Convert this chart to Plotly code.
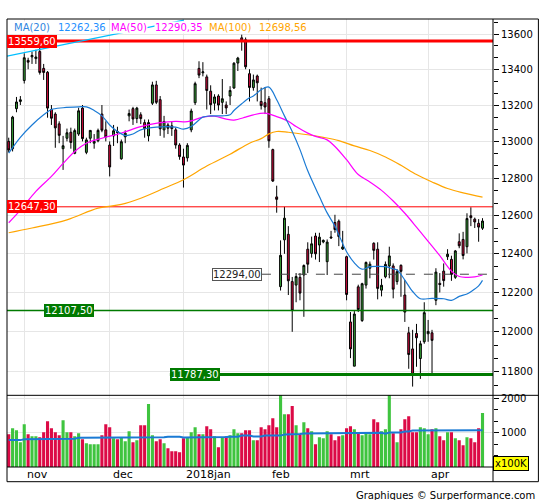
import numpy as np
import pandas as pd
import plotly.graph_objects as go

# Trading days on the chart (exchange holidays removed)
HOLIDAYS = ["2017-10-31", "2017-12-25", "2017-12-26", "2018-01-01", "2018-03-30", "2018-04-02"]
dates = [d for d in pd.bdate_range("2017-10-25", "2018-04-23") if d.strftime("%Y-%m-%d") not in HOLIDAYS]

opens = [13000, 12960, 13180, 13220, 13337, 13450, 13470, 13460, 13500, 13405,
         13383, 13175, 13150, 13096, 12960, 13017, 13050, 12935, 13040, 13183,
         12940, 13017, 12990, 13003, 13150, 13063, 12980, 13030, 13054, 12905,
         13025, 13140, 13180, 13125, 13146, 13103, 13030, 13210, 13312, 13230,
         13063, 13090, 13085, 13063, 12980, 12915, 12910, 13063, 13213, 13405,
         13380, 13357, 13277, 13210, 13250, 13215, 13200, 13250, 13295, 13435,
         13578, 13567, 13375, 13297, 13362, 13220, 13213, 13235, 12955, 12700,
         12230, 12473, 12502, 12256, 12238, 12278, 12290, 12424, 12402, 12493,
         12446, 12462, 12359, 12488, 12564, 12571, 12425, 12385, 12050, 11828,
         12229, 12057, 12238, 12325, 12455, 12424, 12212, 12281, 12337, 12337,
         12256, 12340, 12187, 11995, 11914, 11992, 11866, 11950, 11990, 11995,
         12160, 12247, 12310, 12385, 12371, 12278, 12463, 12475, 12437, 12600,
         12582, 12560, 12534]
highs = [13020, 13140, 13245, 13250, 13490, 13465, 13500, 13510, 13525, 13430,
         13390, 13200, 13160, 13110, 13030, 13070, 13075, 13070, 13185, 13200,
         13020, 13060, 13040, 13070, 13200, 13110, 13000, 13090, 13080, 13010,
         13060, 13175, 13190, 13190, 13160, 13120, 13120, 13330, 13335, 13250,
         13140, 13100, 13110, 13075, 12990, 12960, 12990, 13180, 13330, 13445,
         13440, 13370, 13310, 13260, 13260, 13345, 13220, 13305, 13440, 13470,
         13596, 13580, 13400, 13370, 13370, 13297, 13300, 13250, 12960, 12760,
         12470, 12647.3, 12545, 12280, 12300, 12300, 12345, 12460, 12490, 12510,
         12510, 12475, 12475, 12520, 12605, 12580, 12520, 12390, 12100, 12105,
         12240, 12250, 12360, 12360, 12460, 12460, 12270, 12360, 12437, 12350,
         12320, 12345, 12264, 12025, 12010, 12040, 11955, 12150, 12060, 12010,
         12325, 12300, 12350, 12424, 12390, 12420, 12507, 12515, 12613, 12645,
         12590, 12582, 12587]
lows = [12940, 12945, 13160, 13200, 13320, 13400, 13430, 13430, 13370, 13340,
        13130, 13090, 12965, 12990, 12845, 13000, 12960, 12930, 13030, 13000,
        12930, 12990, 12960, 12995, 13050, 13000, 12810, 12975, 12990, 12900,
        12990, 13110, 13090, 13100, 13095, 13020, 13000, 13200, 13205, 13030,
        13020, 13040, 13030, 12960, 12900, 12750, 12890, 13050, 13200, 13350,
        13360, 13175, 13150, 13170, 13170, 13150, 13150, 13200, 13290, 13390,
        13505, 13400, 13220, 13280, 13220, 13175, 13150, 12965, 12780, 12616,
        12210, 12400, 12187, 12000, 12150, 12160, 12076, 12300, 12380, 12370,
        12357, 12455, 12290, 12480, 12510, 12440, 12420, 12160, 11868, 11828,
        12100, 12050, 12220, 12273, 12370, 12165, 12180, 12273, 12273, 12170,
        12240, 12178, 12050, 11815, 11727, 11825, 11765, 11940, 11950, 11790,
        12135, 12200, 12230, 12368, 12260, 12270, 12429, 12371, 12402, 12545,
        12535, 12463, 12525]
closes = [12953, 13133, 13217, 13229, 13465, 13440, 13478, 13469, 13382, 13382,
          13183, 13127, 13074, 13033, 12976, 13047, 12994, 13059, 13168, 13015,
          13008, 13060, 13000, 13060, 13061, 13024, 12861, 13058, 13048, 12998,
          13045, 13153, 13123, 13183, 13125, 13069, 13103, 13312, 13215, 13069,
          13109, 13072, 13070, 12980, 12917, 12871, 12978, 13167, 13319, 13367,
          13385, 13281, 13202, 13245, 13200, 13235, 13184, 13281, 13434, 13463,
          13559.6, 13414, 13298, 13340, 13324, 13197, 13189, 13003, 12785, 12687,
          12392, 12587, 12260, 12107.5, 12282, 12197, 12339, 12346, 12452, 12400,
          12487, 12470, 12461, 12483, 12527, 12490, 12436, 12190, 11914, 12090,
          12113, 12245, 12355, 12346, 12418, 12221, 12237, 12345, 12389, 12217,
          12307, 12309, 12100, 11886, 11787.3, 11970, 11940, 12097, 12002, 11957,
          12305, 12241, 12261, 12398, 12293, 12415, 12442, 12391, 12585, 12590,
          12567, 12540, 12572]

# volume in units of 100K
volumes = [950, 1125, 1067, 717, 1241, 950, 891, 891, 862, 1008,
           1329, 1125, 1008, 921, 1358, 1008, 1008, 891, 979, 804,
           688, 659, 659, 659, 921, 1241, 1154, 833, 804, 862,
           746, 1038, 717, 775, 1212, 1212, 1825, 921, 746, 804,
           688, 542, 455, 455, 426, 833, 862, 1008, 1154, 950,
           950, 1183, 1096, 891, 571, 862, 891, 921, 1096, 979,
           979, 1067, 1067, 776, 776, 1154, 1096, 1212, 1417, 1154,
           2300, 1533, 1533, 1766, 1212, 950, 1300, 1125, 1038, 659,
           862, 833, 1038, 950, 776, 891, 921, 1125, 1183, 1096,
           979, 921, 979, 950, 1387, 1300, 1038, 1096, 2300, 979,
           717, 1096, 1387, 1470, 1008, 1008, 1154, 1125, 950, 1096,
           1125, 891, 776, 1008, 1008, 833, 776, 630, 862, 833,
           716, 1125, 1563]
volume_ma = ([780] * 4 + [805] * 4 + [800] * 8 + [820] * 2 + [850] * 18 + [860] * 5
             + [880] * 4 + [855] * 4 + [870] * 8 + [880] * 3 + [910] * 3 + [885] * 3
             + [910] * 5 + [940] * 3 + [960] * 2 + [970] * 12 + [990] * 9 + [965]
             + [1000] * 4 + [1027] * 2 + [1057] * 4 + [1076] * 8 + [1067] * 7)

# moving averages (day number, value)
ma20_days = [0, 3, 6, 9, 11, 14, 18, 20, 22, 24, 26, 28, 30, 32, 34, 38, 43, 45, 47, 50,
             52, 55, 57, 58, 60, 62, 63, 65, 67, 69, 71, 73, 75, 77, 80, 82, 84, 85, 87, 89,
             91, 93, 95, 97, 99, 100, 102, 104, 106, 109, 112, 114, 116, 118, 119, 121, 122]
ma20_values = [12936, 13022, 13090, 13146, 13175, 13185, 13190, 13190, 13170, 13140,
               13090, 13054, 13032, 13040, 13063, 13078, 13078, 13067, 13081, 13133,
               13140, 13140, 13146, 13170, 13207, 13240, 13250, 13285, 13300, 13229,
               13140, 13054, 12955, 12840, 12702, 12615, 12545, 12500, 12411, 12353,
               12320, 12333, 12335, 12333, 12322, 12316, 12264, 12205, 12168, 12170,
               12168, 12160, 12180, 12192, 12204, 12234, 12262]
ma50_days = [0, 3, 7, 11, 14, 17, 20, 24, 29, 34, 39, 43, 46, 50, 53, 56, 58, 61, 63, 66,
             69, 72, 74, 77, 79, 82, 84, 87, 90, 93, 96, 99, 102, 105, 108, 111, 114, 116,
             118, 120, 122]
ma50_values = [12563, 12630, 12730, 12810, 12880, 12945, 12990, 13017, 13045, 13081,
               13103, 13110, 13108, 13133, 13138, 13122, 13117, 13133, 13146, 13155,
               13136, 13110, 13081, 13045, 13027, 13008, 12972, 12900, 12820, 12780,
               12735, 12678, 12613, 12540, 12465, 12390, 12310, 12282, 12278, 12280, 12290]
ma100_days = [0, 6, 15, 23, 29, 34, 40, 45, 51, 57, 62, 65, 67, 69, 72, 77, 81, 85, 89,
              93, 97, 101, 105, 109, 113, 117, 122]
ma100_values = [12510, 12535, 12578, 12640, 12660, 12693, 12746, 12792, 12866, 12930,
                12990, 13015, 13041, 13054, 13050, 13036, 13022, 13004, 12975, 12950,
                12915, 12870, 12820, 12780, 12745, 12722, 12699]

legend_names = ["MA(20)", "MA(50)", "MA(100)"]
legend_values = ["12262,36", "12290,35", "12698,56"]

level_values = [13559.60, 12647.30, 12294.00, 12107.50, 11787.30]
trend_days = [-0.44, 45.1]
trend_values = [13474, 13680]

month_labels = ["nov", "dec", "2018jan", "feb", "mrt", "apr"]

# ---- styling ----
FONT = "DejaVu Sans"
GREEN = "#36a336"
RED = "#d20a3c"
VGREEN = "#3fc43f"
VRED = "#dc0a46"
GRID = "#e6e6e6"
X_RANGE = [-0.44, 124.7]

x = np.arange(len(dates))
month_starts = [i for i in range(1, len(dates)) if dates[i].month != dates[i - 1].month]

fig = go.Figure()

# support / resistance lines
level_styles = [
    dict(color="#ff0000", width=3, dash="solid", start=X_RANGE[0]),
    dict(color="#ff0000", width=1, dash="solid", start=X_RANGE[0]),
    dict(color="#444444", width=1, dash="dash", start=65.2),
    dict(color="#007a00", width=1.5, dash="solid", start=X_RANGE[0]),
    dict(color="#007a00", width=3, dash="solid", start=41.5),
]
for v, st in zip(level_values, level_styles):
    fig.add_trace(go.Scatter(x=[st["start"], X_RANGE[1]], y=[v, v], mode="lines",
                             line=dict(color=st["color"], width=st["width"], dash=st["dash"]),
                             hoverinfo="skip", showlegend=False))

fig.add_trace(go.Scatter(x=ma100_days, y=ma100_values, mode="lines", line=dict(color="#ffa500", width=1.2, shape="spline"),
                         hoverinfo="skip", showlegend=False))
fig.add_trace(go.Scatter(x=ma50_days, y=ma50_values, mode="lines", line=dict(color="#ff00ff", width=1.2, shape="spline"),
                         hoverinfo="skip", showlegend=False))
fig.add_trace(go.Scatter(x=ma20_days, y=ma20_values, mode="lines", line=dict(color="#1a7ad4", width=1.2, shape="spline"),
                         hoverinfo="skip", showlegend=False))
fig.add_trace(go.Scatter(x=trend_days, y=trend_values, mode="lines", line=dict(color="#00bfff", width=1.2),
                         hoverinfo="skip", showlegend=False))

fig.add_trace(go.Candlestick(
    x=x, open=opens, high=highs, low=lows, close=closes,
    increasing=dict(fillcolor=GREEN, line=dict(color="black", width=1)),
    decreasing=dict(fillcolor=RED, line=dict(color="black", width=1)),
    whiskerwidth=0, hoverinfo="skip", showlegend=False))

vol_colors = [VGREEN if c >= o else VRED for o, c in zip(opens, closes)]
fig.add_trace(go.Bar(x=x, y=volumes, marker=dict(color=vol_colors, line=dict(width=0)), width=0.8,
                     yaxis="y2", hoverinfo="skip", showlegend=False))
fig.add_trace(go.Scatter(x=x, y=volume_ma, mode="lines", line=dict(color="#1a7ad4", width=2),
                         yaxis="y2", hoverinfo="skip", showlegend=False))

price_ticks = list(range(11800, 13601, 200))
price_minor = [t + d for t in range(11600, 13800, 200) for d in (200 / 3, 400 / 3)]

fig.update_layout(
    width=545, height=500,
    margin=dict(l=7, r=52, t=19, b=33),
    paper_bgcolor="white", plot_bgcolor="white",
    font=dict(family=FONT, size=10, color="black"),
    showlegend=False,
    xaxis=dict(domain=[0, 1], range=X_RANGE, anchor="y2", showticklabels=False, ticks="",
               tickvals=month_starts, showgrid=True, gridcolor=GRID, gridwidth=1,
               zeroline=False, showline=False, rangeslider=dict(visible=False), fixedrange=True),
    yaxis=dict(domain=[0.16, 1], type="log", range=[np.log10(11684), np.log10(13686)], side="right",
               anchor="x", tickvals=price_ticks, ticktext=[str(t) for t in price_ticks],
               ticks="outside", ticklen=5, tickcolor="black", showgrid=True, gridcolor=GRID,
               tickfont=dict(family=FONT, size=10, color="black"), zeroline=False, showline=False,
               minor=dict(tickmode="array", tickvals=price_minor, ticks="outside", ticklen=4,
                          tickcolor="black", showgrid=False)),
    yaxis2=dict(domain=[0, 0.16], range=[0, 2079], side="right", anchor="x",
                tickvals=[1000, 2000], ticks="outside", ticklen=5, tickcolor="black",
                showgrid=True, gridcolor=GRID, zeroline=False, showline=False,
                tickfont=dict(family=FONT, size=10, color="black"),
                minor=dict(tickmode="array", tickvals=[333, 667, 1333, 1667], ticks="outside",
                           ticklen=4, tickcolor="black", showgrid=False)),
)

# frame
XR = 1.0934
YB = -0.0328
line_k = dict(color="black", width=1)
fig.add_shape(type="rect", xref="paper", yref="paper", x0=0, x1=XR, y0=YB, y1=1, line=line_k)
fig.add_shape(type="line", xref="paper", yref="paper", x0=1, x1=1, y0=YB, y1=1, line=line_k)
fig.add_shape(type="line", xref="paper", yref="paper", x0=0, x1=XR, y0=0.16, y1=0.16, line=line_k)
fig.add_shape(type="line", xref="paper", yref="paper", x0=0, x1=1, y0=0, y1=0, line=line_k)

# level labels
label_x = [0.0, 0.0, 0.4215, 0.0761, 0.3352]
label_bg = ["#ff0000", "#ff0000", "white", "#007a00", "#007a00"]
label_fg = ["white", "white", "#222222", "white", "white"]
label_border = ["#ff0000", "#ff0000", "#555555", "#007a00", "#007a00"]
for v, lx, bg, fg, bc in zip(level_values, label_x, label_bg, label_fg, label_border):
    fig.add_annotation(x=lx, xref="paper", y=np.log10(v), yref="y", xanchor="left", yanchor="middle",
                       text=f"{v:.2f}".replace(".", ","), showarrow=False,
                       font=dict(family=FONT, size=10, color=fg), bgcolor=bg,
                       bordercolor=bc, borderwidth=1, borderpad=0)

# legend row
legend_x = [13, 57, 110, 154, 208, 258]
legend_col = ["#2f86e0", "#1e90ff", "#ff00ff", "#ff00ff", "#ffa500", "#ffa500"]
legend_txt = [legend_names[0], legend_values[0], legend_names[1], legend_values[1],
              legend_names[2], legend_values[2]]
for px, col, t in zip(legend_x, legend_col, legend_txt):
    fig.add_annotation(x=(px - 7) / 486.3, xref="paper", y=0.9804, yref="paper",
                       xanchor="left", yanchor="middle", text=t, showarrow=False,
                       font=dict(family=FONT, size=10, color=col), bgcolor="white", borderpad=0)

# month labels
for i, lab in zip(month_starts, month_labels):
    fig.add_annotation(x=i, xref="x", y=-0.0167, yref="paper", xanchor="left", yanchor="middle",
                       xshift=1, text=lab, showarrow=False, font=dict(family=FONT, size=11, color="black"))

fig.add_annotation(x=1.0, xref="paper", y=0.0078, yref="paper", xanchor="left", yanchor="middle",
                   text="x100K", showarrow=False, font=dict(family=FONT, size=10, color="black"),
                   bgcolor="#ffff00", bordercolor="black", borderwidth=1, borderpad=1)
fig.add_annotation(x=1.0899, xref="paper", y=-0.0625, yref="paper", xanchor="right", yanchor="middle",
                   text="Graphiques © Surperformance.com", showarrow=False,
                   font=dict(family=FONT, size=10, color="black"))

# page body has a default margin; remove it so the figure sits at the window's corner
fig.write_html("out.html", config={"displayModeBar": False},
               post_script="document.body.style.margin='0';document.body.style.overflow='hidden';")
